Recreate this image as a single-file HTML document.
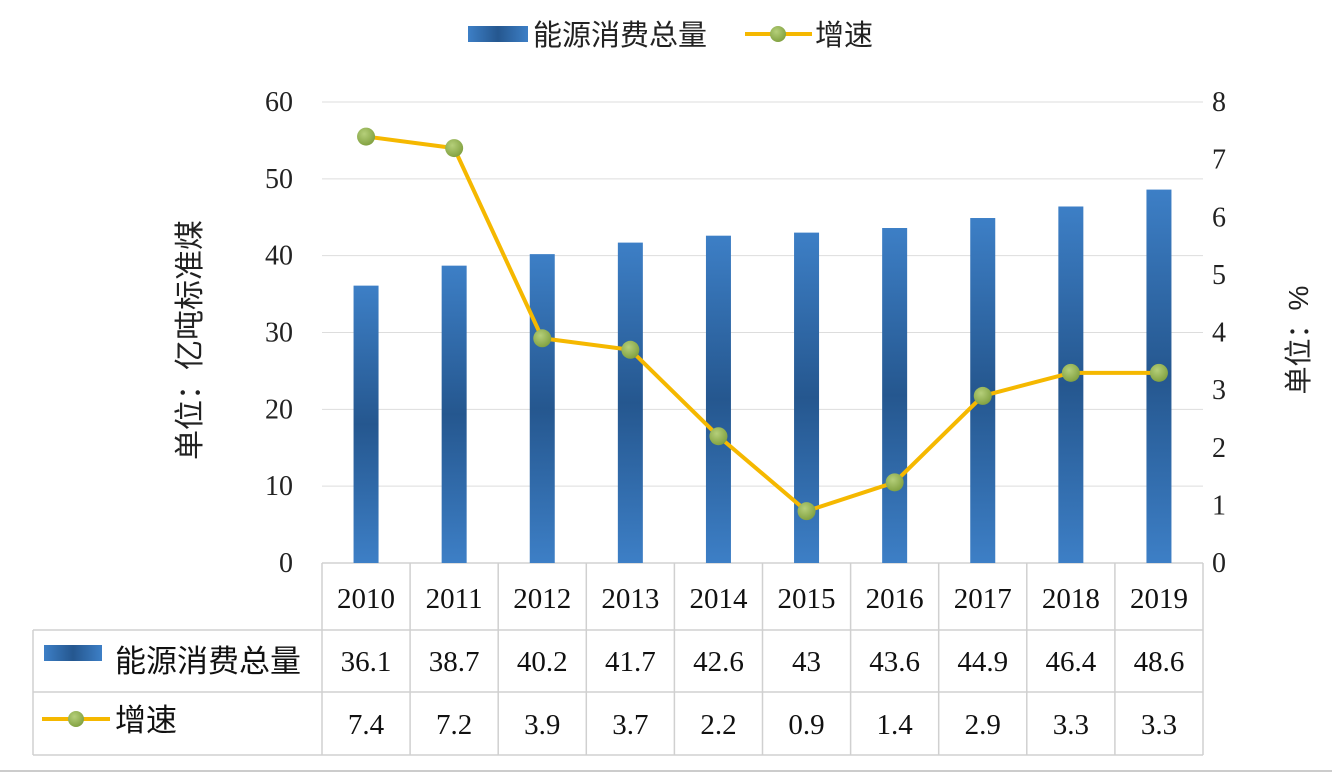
<!DOCTYPE html>
<html><head><meta charset="utf-8"><style>
body{margin:0;background:#fff;}
svg{display:block;font-family:"Liberation Serif","Noto Serif CJK SC",serif;}
.cjk{font-family:"Liberation Sans","Noto Sans CJK SC",sans-serif;}
</style></head><body>
<svg id="chart" width="1332" height="778" viewBox="0 0 1332 778" xmlns="http://www.w3.org/2000/svg">
<defs>
<linearGradient id="barg" x1="0" y1="0" x2="0" y2="1">
<stop offset="0" stop-color="#3d7fc6"/><stop offset="0.5" stop-color="#25578f"/><stop offset="1" stop-color="#3d7fc6"/>
</linearGradient>
<linearGradient id="legg" x1="0" y1="0" x2="1" y2="0">
<stop offset="0" stop-color="#3d7fc6"/><stop offset="0.5" stop-color="#25578f"/><stop offset="1" stop-color="#3d7fc6"/>
</linearGradient>
<radialGradient id="dotg" cx="0.4" cy="0.35" r="0.7">
<stop offset="0" stop-color="#b5cf7a"/><stop offset="1" stop-color="#7f9f3e"/>
</radialGradient>
</defs>
<g id="grid"></g><g id="bars"></g><g id="line"></g><g id="axes"></g><g id="table"></g>
<g>
<rect x="468" y="26" width="60" height="16" fill="url(#legg)"/>
<text class="cjk" x="533" y="45" font-size="29" fill="#222">能源消费总量</text>
<line x1="745" y1="34" x2="812" y2="34" stroke="#f5b800" stroke-width="4"/>
<circle cx="778" cy="34" r="8" fill="url(#dotg)"/>
<text class="cjk" x="815" y="45" font-size="29" fill="#222">增速</text>
</g>
<text class="cjk" transform="translate(200,340) rotate(-90)" text-anchor="middle" font-size="30" fill="#222">单位：亿吨标准煤</text>
<text class="cjk" transform="translate(1308,340) rotate(-90)" text-anchor="middle" font-size="28" fill="#222">单位：%</text>
<line x1="0" y1="771" x2="1332" y2="771" stroke="#ccc" stroke-width="2"/>
</svg>
<script>
const categories=["2010","2011","2012","2013","2014","2015","2016","2017","2018","2019"];
const energy=[36.1,38.7,40.2,41.7,42.6,43,43.6,44.9,46.4,48.6];
const growth=[7.4,7.2,3.9,3.7,2.2,0.9,1.4,2.9,3.3,3.3];
const leftTicks=[0,10,20,30,40,50,60];
const rightTicks=[0,1,2,3,4,5,6,7,8];
const energyLabels=["36.1","38.7","40.2","41.7","42.6","43","43.6","44.9","46.4","48.6"];
const growthLabels=["7.4","7.2","3.9","3.7","2.2","0.9","1.4","2.9","3.3","3.3"];
const NS="http://www.w3.org/2000/svg";
const X0=322,X1=1203,Y0=563,Y1=102,BW=25;
const step=(X1-X0)/categories.length;
const xc=i=>X0+step*(i+0.5);
const yL=v=>Y0-(v/60)*(Y0-Y1);
const yR=v=>Y0-(v/8)*(Y0-Y1);
function mk(t,a,p){const e=document.createElementNS(NS,t);for(const k in a)e.setAttribute(k,a[k]);p.appendChild(e);return e;}
const grid=document.getElementById('grid'),axes=document.getElementById('axes');
leftTicks.forEach(v=>{
 const l=mk('line',{x1:X0,x2:X1,y1:yL(v),y2:yL(v),stroke:v===0?'#bbb':'#ddd','stroke-width':1},grid);
 
 
 const t=mk('text',{x:X0-29,y:yL(v)+9,'text-anchor':'end','font-size':28,fill:'#222'},axes);
 t.textContent=v;
 
 
});
rightTicks.forEach(v=>{
 const t=mk('text',{x:1212,y:yR(v)+9,'font-size':28,fill:'#222'},axes);
 t.textContent=v;
 
 
});
const bars=document.getElementById('bars');
energy.forEach((v,i)=>{
 const r=mk('rect',{x:xc(i)-BW/2,y:yL(v),width:BW,height:Y0-yL(v),fill:'url(#barg)'},bars);
 
 
});
const lg=document.getElementById('line');
const pl=mk('polyline',{points:growth.map((v,i)=>xc(i)+','+yR(v)).join(' '),fill:'none',stroke:'#f5b800','stroke-width':4},lg);


growth.forEach((v,i)=>{
 const c=mk('circle',{cx:xc(i),cy:yR(v),r:9,fill:'url(#dotg)'},lg);
 
 
});
const tb=document.getElementById('table');
const tl=(x1,y1,x2,y2)=>{const l=mk('line',{x1,y1,x2,y2,stroke:'#d0d0d0','stroke-width':1.5},tb);};
for(let i=0;i<=categories.length;i++)tl(X0+step*i,563,X0+step*i,755);
tl(33,630,33,755);
tl(33,630,X1,630);tl(33,692,X1,692);tl(33,755,X1,755);
categories.forEach((c,i)=>{
 let t=mk('text',{x:xc(i),y:608,'text-anchor':'middle','font-size':29,fill:'#111'},tb);t.textContent=c;
 
 
 t=mk('text',{x:xc(i),y:671,'text-anchor':'middle','font-size':29,fill:'#111'},tb);t.textContent=energyLabels[i];
 
 
 t=mk('text',{x:xc(i),y:734,'text-anchor':'middle','font-size':29,fill:'#111'},tb);t.textContent=growthLabels[i];
 
 
});
let s=mk('rect',{x:44,y:645,width:58,height:16,fill:'url(#legg)'},tb);


let t=mk('text',{x:115,y:672,'font-size':31,fill:'#111',class:'cjk'},tb);t.textContent='能源消费总量';


s=mk('line',{x1:42,x2:110,y1:719,y2:719,stroke:'#f5b800','stroke-width':4},tb);


s=mk('circle',{cx:76,cy:719,r:8,fill:'url(#dotg)'},tb);


t=mk('text',{x:115,y:731,'font-size':31,fill:'#111',class:'cjk'},tb);t.textContent='增速';


</script>
</body></html>
